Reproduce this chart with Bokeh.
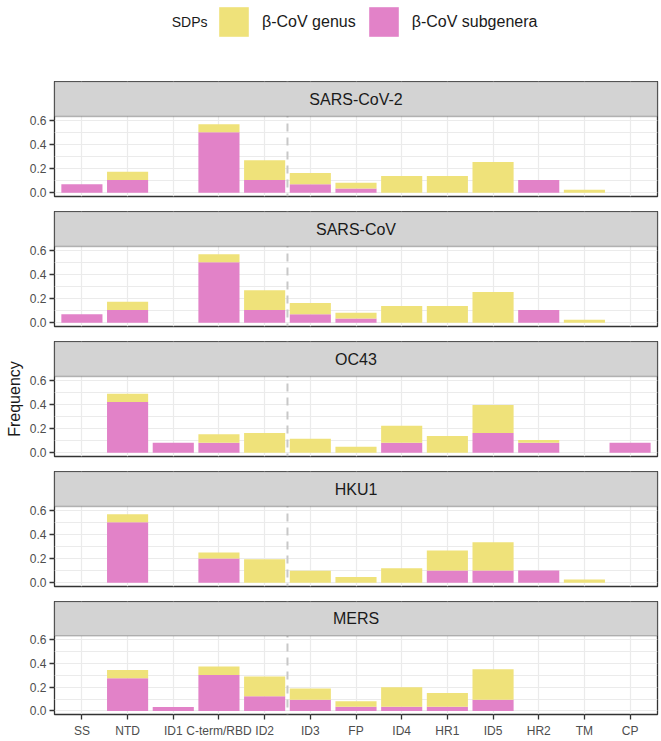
from bokeh.plotting import figure
from bokeh.layouts import column
from bokeh.models import (FactorRange, Range1d, FixedTicker, PrintfTickFormatter, Span,
                          BoxAnnotation, Label, Legend, LegendItem, ColumnDataSource)
from bokeh.embed import file_html
from bokeh.resources import INLINE

# ---------------- data ----------------
categories = ["SS", "NTD", "ID1", "C-term/RBD", "ID2", "ID3", "FP", "ID4", "HR1", "ID5", "HR2", "TM", "CP"]
facets = ["SARS-CoV-2", "SARS-CoV", "OC43", "HKU1", "MERS"]
series_labels = ["β-CoV genus", "β-CoV subgenera"]
legend_title = "SDPs"
y_label = "Frequency"
divider_after = "ID2"
y_ticks = [0.0, 0.2, 0.4, 0.6]
y_minor_ticks = [0.1, 0.3, 0.5]

sarscov2_subgenera = [0.071, 0.107, 0, 0.5, 0.107, 0.071, 0.036, 0, 0, 0, 0.107, 0, 0]
sarscov2_genus = [0, 0.068, 0, 0.067, 0.162, 0.093, 0.047, 0.14, 0.14, 0.255, 0, 0.025, 0]

sarscov_subgenera = [0.071, 0.107, 0, 0.5, 0.107, 0.071, 0.036, 0, 0, 0, 0.107, 0, 0]
sarscov_genus = [0, 0.068, 0, 0.067, 0.162, 0.093, 0.047, 0.14, 0.14, 0.255, 0, 0.025, 0]

oc43_subgenera = [0, 0.419, 0.083, 0.083, 0, 0, 0, 0.083, 0, 0.164, 0.083, 0, 0.083]
oc43_genus = [0, 0.068, 0, 0.07, 0.164, 0.116, 0.051, 0.14, 0.14, 0.231, 0.024, 0, 0]

hku1_subgenera = [0, 0.5, 0, 0.2, 0, 0, 0, 0, 0.102, 0.102, 0.102, 0, 0]
hku1_genus = [0, 0.067, 0, 0.05, 0.194, 0.1, 0.048, 0.121, 0.164, 0.234, 0, 0.027, 0]

mers_subgenera = [0, 0.274, 0.033, 0.301, 0.124, 0.094, 0.035, 0.035, 0.035, 0.094, 0, 0, 0]
mers_genus = [0, 0.07, 0, 0.073, 0.164, 0.094, 0.046, 0.164, 0.116, 0.255, 0, 0, 0]

subgenera_by_facet = [sarscov2_subgenera, sarscov_subgenera, oc43_subgenera, hku1_subgenera, mers_subgenera]
genus_by_facet = [sarscov2_genus, sarscov_genus, oc43_genus, hku1_genus, mers_genus]

# ---------------- style / layout ----------------
FONT = "Liberation Sans"
YELLOW = "#EFE27A"
PINK = "#E282C8"
STRIP_FILL = "#D3D3D3"
DARK = "#333333"
GRID = "#EBEBEB"
W = 660
LEFT = 54
RIGHT = 3
FRAME_W = W - LEFT - RIGHT
LEG_H = 81
STRIP_PX = 35
PANEL_PX = 80
GAP = 15
AXIS_PX = 24
Y0, Y1 = -0.03, 0.63
PPU = PANEL_PX / (Y1 - Y0)
YTOP = Y1 + STRIP_PX / PPU
XPAD = 0.1
PPX = FRAME_W / (len(categories) + 2 * XPAD)

figs = []

# ---------------- legend ----------------
leg = figure(width=W, height=LEG_H, min_border_left=LEFT, min_border_right=RIGHT,
             min_border_top=0, min_border_bottom=0,
             x_range=FactorRange(factors=categories, range_padding=XPAD, range_padding_units="absolute"),
             y_range=Range1d(0, LEG_H),
             toolbar_location=None, output_backend="svg", outline_line_color=None)
leg.axis.visible = False
leg.grid.visible = False
leg_src = ColumnDataSource(dict(cat=categories, sub=sarscov2_subgenera, gen=sarscov2_genus))
leg_r = leg.vbar_stack(["sub", "gen"], x="cat", width=0.9, source=leg_src,
                       fill_color=[PINK, YELLOW], line_color=None)
for r in leg_r:
    r.visible = False
LEG_X = 161
LEG_TOP = 3
GLYPH = 37
legend = Legend(items=[LegendItem(label=series_labels[0], renderers=[leg_r[1]]),
                       LegendItem(label=series_labels[1], renderers=[leg_r[0]])],
                orientation="horizontal", location=(LEG_X, LEG_H - LEG_TOP - GLYPH),
                glyph_width=GLYPH, glyph_height=GLYPH, label_height=GLYPH,
                label_standoff=10, spacing=9, padding=0, margin=0,
                border_line_color=None, background_fill_alpha=0, inactive_fill_alpha=0,
                label_text_font=FONT, label_text_font_size="16px", label_text_color="#1A1A1A",
                label_text_baseline="middle")
leg.add_layout(legend, "center")
leg.add_layout(Label(x=-XPAD + (LEG_X - 8) / PPX, y=LEG_H - LEG_TOP - GLYPH / 2, text=legend_title,
                     text_align="right", text_baseline="middle",
                     text_font=FONT, text_font_size="14px", text_color="#1A1A1A"))
figs.append(leg)

# ---------------- facets ----------------
for i, (name, sub, gen) in enumerate(zip(facets, subgenera_by_facet, genus_by_facet)):
    last = i == len(facets) - 1
    bottom = AXIS_PX if last else GAP
    p = figure(width=W, height=STRIP_PX + PANEL_PX + bottom,
               x_range=FactorRange(factors=categories, range_padding=XPAD, range_padding_units="absolute"),
               y_range=Range1d(Y0, YTOP),
               min_border_left=LEFT, min_border_right=RIGHT, min_border_top=0, min_border_bottom=bottom,
               toolbar_location=None, output_backend="svg",
               outline_line_color=DARK, outline_line_width=1.3,
               background_fill_color="white", border_fill_color="white")
    src = ColumnDataSource(dict(cat=categories, sub=sub, gen=gen))
    p.vbar_stack(["sub", "gen"], x="cat", width=0.9, source=src,
                 fill_color=[PINK, YELLOW], line_color=None)

    p.xgrid.grid_line_color = GRID
    p.xgrid.grid_line_width = 1.2
    p.ygrid.grid_line_color = GRID
    p.ygrid.grid_line_width = 1.2
    p.ygrid.minor_grid_line_color = GRID
    p.ygrid.minor_grid_line_width = 1.2

    p.yaxis.ticker = FixedTicker(ticks=y_ticks, minor_ticks=y_minor_ticks)
    p.yaxis.formatter = PrintfTickFormatter(format="%.1f")
    p.yaxis.major_label_text_font = FONT
    p.yaxis.major_label_text_font_size = "12px"
    p.yaxis.major_label_text_color = "#4D4D4D"
    p.yaxis.major_tick_line_color = DARK
    p.yaxis.major_tick_line_width = 1.3
    p.yaxis.major_tick_out = 5
    p.yaxis.major_tick_in = 0
    p.yaxis.minor_tick_line_color = None
    p.yaxis.axis_line_color = None
    p.yaxis.major_label_standoff = 3
    if i == 2:
        p.yaxis.axis_label = y_label
        p.yaxis.axis_label_text_font = FONT
        p.yaxis.axis_label_text_font_size = "16px"
        p.yaxis.axis_label_text_font_style = "normal"
        p.yaxis.axis_label_text_color = "#1A1A1A"
        p.yaxis.axis_label_standoff = 4

    if last:
        p.xaxis.major_label_text_font = FONT
        p.xaxis.major_label_text_font_size = "12px"
        p.xaxis.major_label_text_color = "#4D4D4D"
        p.xaxis.major_tick_line_color = DARK
        p.xaxis.major_tick_line_width = 1.3
        p.xaxis.major_tick_out = 5
        p.xaxis.major_tick_in = 0
        p.xaxis.axis_line_color = None
        p.xaxis.major_label_standoff = 4
    else:
        p.xaxis.visible = False

    p.add_layout(Span(location=categories.index(divider_after) + 1, dimension="height",
                      line_color="#C8C8C8", line_dash="8 6", line_width=2))
    p.add_layout(BoxAnnotation(bottom=Y1, fill_color=STRIP_FILL, fill_alpha=1,
                               line_color=DARK, line_width=1.3))
    p.add_layout(Label(x=len(categories) / 2, y=(Y1 + YTOP) / 2, text=name,
                       text_align="center", text_baseline="middle",
                       text_font=FONT, text_font_size="16px", text_color="#1A1A1A"))
    figs.append(p)

layout = column(*figs, spacing=0)
open("out.html", "w").write(file_html(layout, INLINE))
